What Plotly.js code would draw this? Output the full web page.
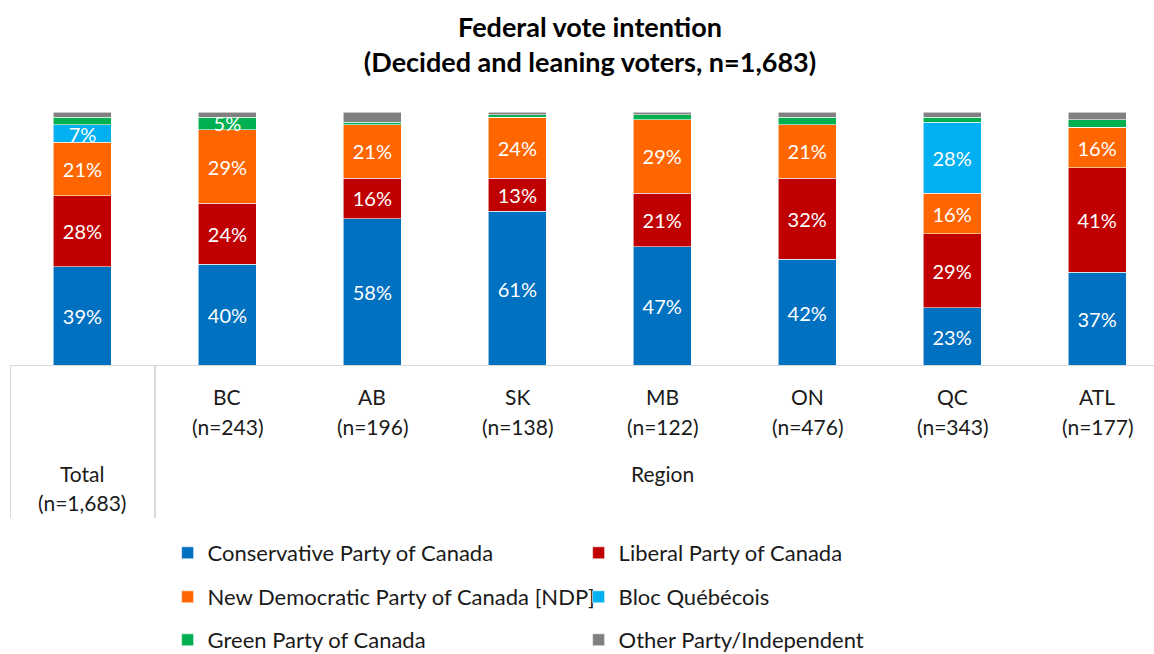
<!DOCTYPE html>
<html>
<head>
<meta charset="utf-8">
<script src="https://cdn.plot.ly/plotly-3.0.1.min.js"></script>
<style>html,body{margin:0;padding:0;background:#fff;}#chart{width:1154px;height:654px;}</style>
</head>
<body>
<div id="chart"></div>
<script>
var categories = ["Total", "BC", "AB", "SK", "MB", "ON", "QC", "ATL"];
var line1Labels = ["Total", "BC", "AB", "SK", "MB", "ON", "QC", "ATL"];
var line2Labels = ["(n=1,683)", "(n=243)", "(n=196)", "(n=138)", "(n=122)", "(n=476)", "(n=343)", "(n=177)"];
var groupLabel = "Region";

var conservative = [39, 40, 58, 61, 47, 42, 23, 37];
var liberal      = [28, 24, 16, 13, 21, 32, 29, 41];
var ndp          = [21, 29, 21, 24, 29, 21, 16, 16];
var bloc         = [7, 0, 0, 0, 0, 0, 28, 0];
var green        = [3, 5, 1, 1, 2, 3, 2, 3];
var other        = [2, 2, 4, 1, 1, 2, 2, 3];

var seriesNames = ["Conservative Party of Canada", "Liberal Party of Canada",
  "New Democratic Party of Canada [NDP]", "Bloc Québécois",
  "Green Party of Canada", "Other Party/Independent"];
var seriesValues = [conservative, liberal, ndp, bloc, green, other];
var seriesColors = ["#0070c0", "#c00000", "#ff6600", "#00b0f0", "#00b050", "#808080"];
var legendIds = ["legend", "legend", "legend2", "legend2", "legend3", "legend3"];

var FONT = "Lato, 'Open Sans', sans-serif";

var traces = seriesValues.map(function (vals, i) {
  return {
    type: "bar",
    name: seriesNames[i],
    x: categories,
    y: vals,
    text: vals.map(function (v) { return v >= 5 ? v + "%" : ""; }),
    textposition: "inside",
    insidetextanchor: "middle",
    constraintext: "none",
    textangle: 0,
    textfont: { color: "#ffffff", size: 20, family: FONT },
    marker: { color: seriesColors[i], line: { color: "rgba(255,255,255,0.7)", width: 0.8 } },
    legend: legendIds[i],
    hoverinfo: "name+y"
  };
});

var annotations = [];
for (var i = 0; i < categories.length; i++) {
  var isTotal = i === 0;
  annotations.push({ x: categories[i], y: isTotal ? -0.425 : -0.122, xref: "x", yref: "paper", yanchor: "middle",
    text: line1Labels[i], showarrow: false, font: { size: 21, family: FONT, color: "#1a1a1a" } });
  annotations.push({ x: categories[i], y: isTotal ? -0.539 : -0.240, xref: "x", yref: "paper", yanchor: "middle",
    text: line2Labels[i], showarrow: false, font: { size: 21, family: FONT, color: "#1a1a1a" } });
}
annotations.push({ x: 4, y: -0.425, xref: "x", yref: "paper", yanchor: "middle", text: groupLabel, showarrow: false,
  font: { size: 21, family: FONT, color: "#1a1a1a" } });

var shapes = [
  { type: "line", xref: "paper", yref: "y", x0: 0, x1: 1, y0: 0, y1: 0, line: { color: "#d9d9d9", width: 2 } },
  { type: "line", xref: "x", yref: "paper", x0: -0.5, x1: -0.5, y0: 0, y1: -0.598, line: { color: "#d9d9d9", width: 2 } },
  { type: "line", xref: "x", yref: "paper", x0: 0.5, x1: 0.5, y0: 0, y1: -0.598, line: { color: "#d9d9d9", width: 2 } }
];

function legendCfg(yPx) {
  return {
    orientation: "h", x: 159 / 1154, xanchor: "left",
    y: 1 - yPx / 654, yref: "container", yanchor: "middle",
    entrywidth: 366, entrywidthmode: "pixels",
    font: { size: 22, family: FONT, color: "#1a1a1a" },
    bgcolor: "rgba(0,0,0,0)", traceorder: "normal"
  };
}

var layout = {
  width: 1154, height: 654,
  margin: { l: 10, r: 0, t: 112, b: 288 },
  paper_bgcolor: "#ffffff", plot_bgcolor: "#ffffff",
  barmode: "stack", bargap: 0.6,
  font: { family: FONT, color: "#1a1a1a" },
  title: {
    text: "<b>Federal vote intention<br>(Decided and leaning voters, n=1,683)</b>",
    x: 590 / 1154, xref: "container", xanchor: "center",
    y: 1 - 37 / 654, yref: "container", yanchor: "middle",
    font: { size: 27, family: FONT, color: "#000000" }
  },
  xaxis: { range: [-0.5, 7.393], showticklabels: false, showgrid: false, zeroline: false, showline: false, fixedrange: true, type: "category" },
  yaxis: { range: [0, 100], visible: false, fixedrange: true },
  legend: legendCfg(553),
  legend2: legendCfg(597),
  legend3: legendCfg(640),
  annotations: annotations,
  shapes: shapes,
  showlegend: true
};

Plotly.newPlot("chart", traces, layout, { displayModeBar: false, staticPlot: true });
</script>
</body>
</html>
